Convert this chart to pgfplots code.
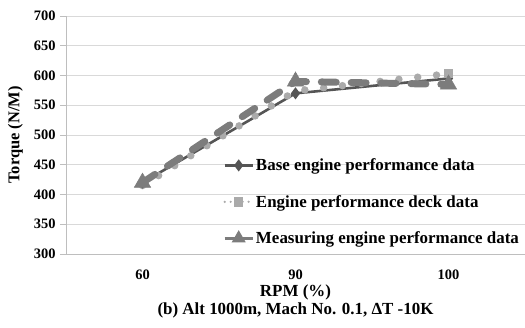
\documentclass[border=0pt]{standalone}
\usepackage{fontspec}
\setmainfont{Liberation Serif}
\usepackage{pgfplots}
\pgfplotsset{compat=1.18}
\definecolor{basec}{HTML}{555555}
\definecolor{deckc}{HTML}{AAAAAA}
\definecolor{measc}{HTML}{7C7C7C}
\definecolor{gridc}{HTML}{D9D9D9}
\begin{document}
\begin{tikzpicture}
\begin{axis}[
  at={(0,0)}, anchor=south west,
  scale only axis, width=459bp, height=238bp,
  xmin=-0.5, xmax=2.5, ymin=300, ymax=700,
  ytick distance=50,
  xtick={0,1,2}, xticklabels={60,90,100},
  axis x line*=bottom, axis y line*=left,
  axis line style={draw=gridc!70!gray, line width=0.8pt, -},
  xtick style={draw=none},
  ytick style={draw=gridc!70!gray, line width=0.8pt},
  tick align=outside, major tick length=6bp,
  ymajorgrids, grid style={draw=gridc, line width=0.9pt},
  /pgf/number format/assume math mode=true,
  tick label style={font=\fontsize{14.5}{14.5}\selectfont\bfseries},
  yticklabel style={xshift=-1bp},
  xticklabel style={yshift=-9bp, inner sep=1bp},
  ylabel={Torque (N/M)},
  ylabel style={font=\fontsize{16.5}{17}\selectfont\bfseries, yshift=4bp},
  xlabel={RPM (\%)\\(b) Alt 1000m, Mach No. 0.1, ΔT -10K},
  xlabel style={font=\fontsize{17}{18}\selectfont\bfseries, align=center,
    at={(axis description cs:0.5,0)}, anchor=north, inner sep=0pt, yshift=-31bp},
  legend style={at={(0.336,0.418)}, anchor=north west, draw=none, fill=none,
    font=\fontsize{17}{17}\selectfont\bfseries, row sep=19bp,
    legend cell align=left},
  legend image code/.code={\draw[mark repeat=2,mark phase=2,#1] plot coordinates {(0bp,0bp) (14bp,0bp) (28bp,0bp)};},
]
\addplot[forget plot, color=basec, line width=2.6pt, mark=diamond*, mark size=4pt,
  mark options={solid, fill=basec}] coordinates {(0,420) (1,570) (2,595)};
\addplot[forget plot, color=deckc, line width=7.5pt, line cap=round, dash pattern=on 0pt off 19pt,
  mark=square*, mark size=4pt, mark options={solid, fill=deckc, line width=0.5pt},
  mark indices={3}] coordinates {(0,415) (1,574) (2,603)};
\addplot[forget plot, color=measc, line width=7pt, line cap=round, dash pattern=on 15pt off 15pt,
  mark=triangle*, mark size=9.5pt, mark options={solid, fill=measc, line width=0.5pt}]
  coordinates {(0,420) (1,590) (2,585)};
\addlegendimage{color=basec, line width=2.6pt, mark=diamond*, mark size=4pt, mark options={solid, fill=basec}}
\addlegendentry{Base engine performance data}
\addlegendimage{color=deckc, line width=2.5pt, line cap=round, dash pattern=on 0pt off 6pt, mark=square*, mark size=3.5pt, mark options={solid, fill=deckc}}
\addlegendentry{Engine performance deck data}
\addlegendimage{color=measc, line width=2.6pt, mark=triangle*, mark size=5.5pt, mark options={solid, fill=measc}}
\addlegendentry{Measuring engine performance data}
\end{axis}
\pgfresetboundingbox
\path (-66bp,-74bp) rectangle (459bp,254bp);
\end{tikzpicture}
\end{document}
